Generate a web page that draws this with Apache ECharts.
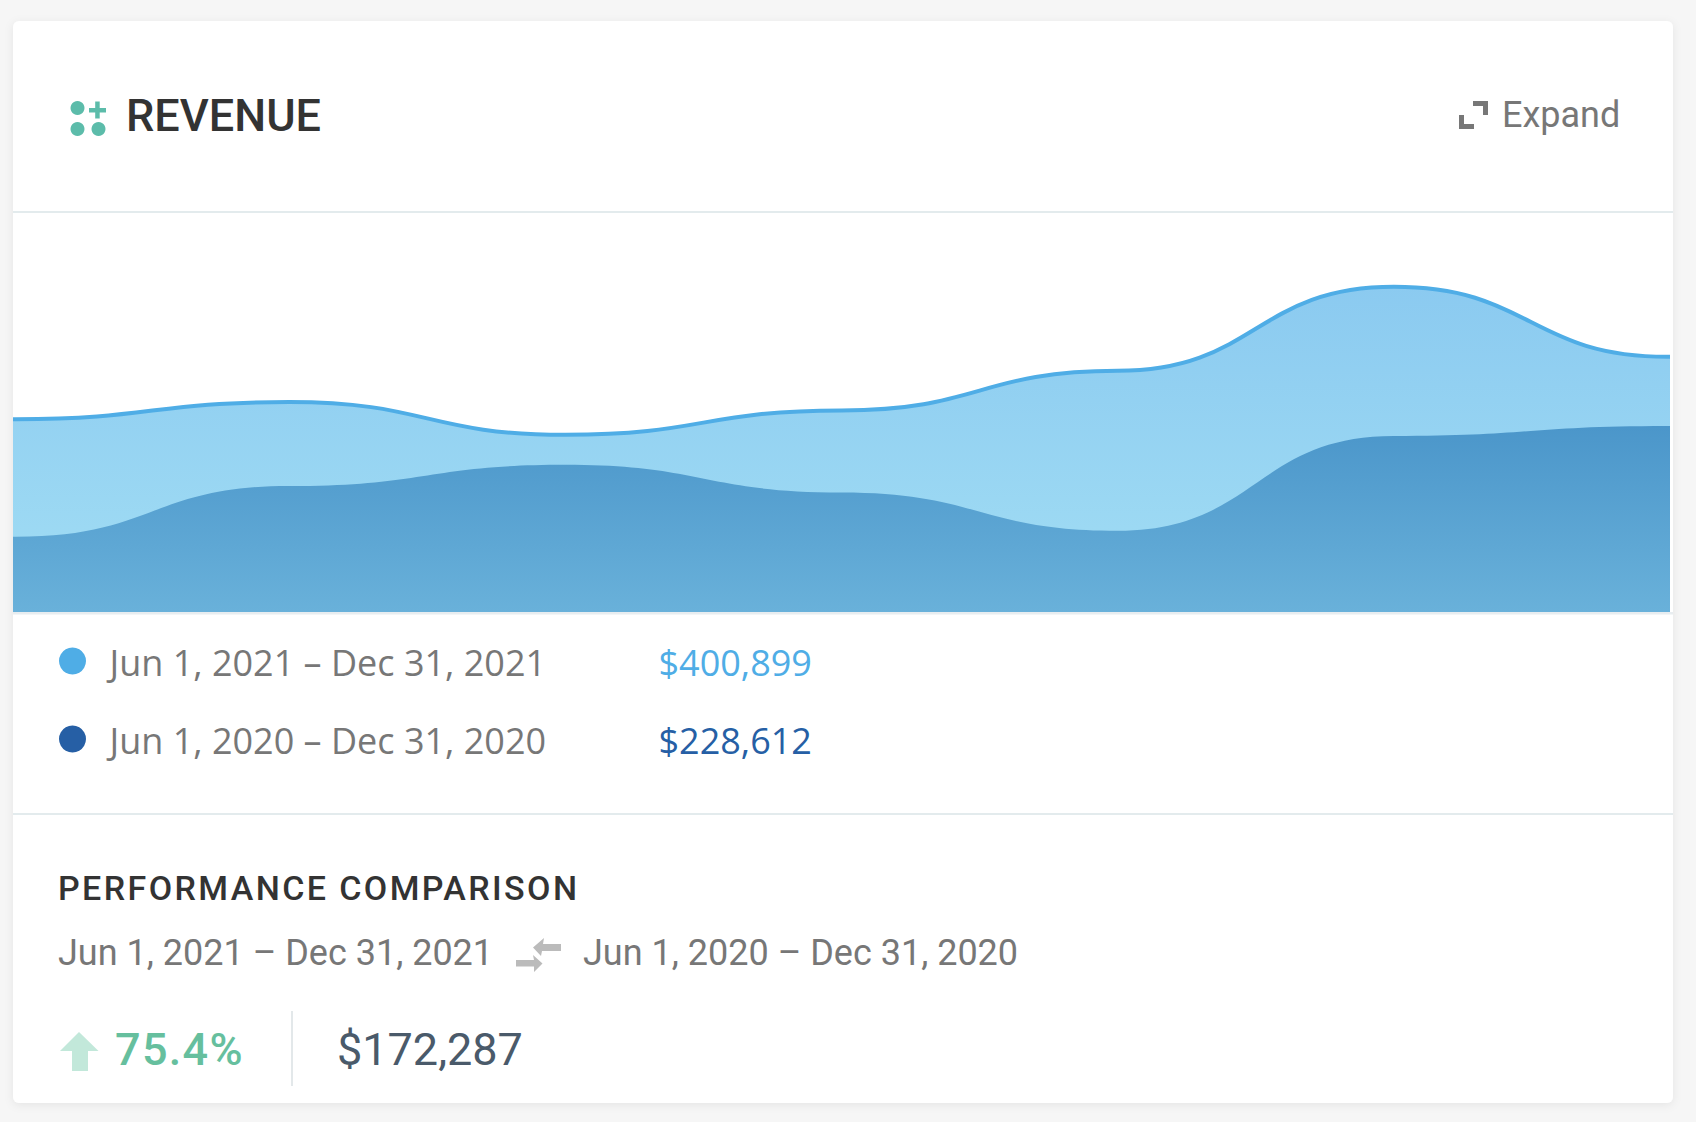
<!DOCTYPE html>
<html>
<head>
<meta charset="utf-8">
<title>Revenue</title>
<style>
  html, body { margin: 0; padding: 0; background: #f6f6f6; }
  #chart { width: 1696px; height: 1122px; }
</style>
<script src="https://cdn.jsdelivr.net/npm/echarts@6/dist/echarts.min.js"></script>
</head>
<body>
<div id="chart"></div>
<script>
var months = ['Jun', 'Jul', 'Aug', 'Sep', 'Oct', 'Nov', 'Dec'];

// monthly revenue in $k
var current = [48.2, 52.5, 44.3, 50.4, 60.3, 81.3, 63.8];
var previous = [18.8, 31.5, 36.8, 29.9, 20.3, 44.0, 46.5];

var currentRange = 'Jun 1, 2021 – Dec 31, 2021';
var previousRange = 'Jun 1, 2020 – Dec 31, 2020';
var currentTotal = '$400,899';
var previousTotal = '$228,612';
var changePercent = '75.4%';
var changeAmount = '$172,287';
var comparisonTitle = 'PERFORMANCE COMPARISON';

var GRAY = '#777777';
var TEAL = '#5cbcaa';
var LINE = '#e3ebed';

// first and last value are repeated right next to the edge so the curve
// leaves and enters the chart flat, like the original
function toPoints(values) {
  var last = values.length - 1;
  var points = values.map(function (v, i) { return [i, v]; });
  points.splice(1, 0, [0.01, values[0]]);
  points.splice(points.length - 1, 0, [last - 0.01, values[last]]);
  return points;
}

function label(x, y, text, size, color, weight, family) {
  return {
    type: 'text', x: x, y: y, z: 5,
    style: {
      text: text, fill: color,
      font: (weight || 400) + ' ' + size + 'px ' + (family || 'Roboto'),
      textVerticalAlign: 'middle'
    }
  };
}
function box(x, y, w, h, color) {
  return { type: 'rect', z: 1, shape: { x: x, y: y, width: w, height: h }, style: { fill: color } };
}
function dot(x, y, r, color) {
  return { type: 'circle', z: 5, shape: { cx: x, cy: y, r: r }, style: { fill: color } };
}
function poly(points, color) {
  return { type: 'polygon', z: 5, shape: { points: points }, style: { fill: color } };
}

var chart = echarts.init(document.getElementById('chart'), null, { renderer: 'svg' });

chart.setOption({
  backgroundColor: '#f6f6f6',
  animation: false,
  grid: { left: 13, right: 26, top: 212, height: 400 },
  xAxis: { type: 'value', min: 0, max: months.length - 1, show: false },
  yAxis: { type: 'value', min: 0, max: 100, show: false },
  legend: {
    orient: 'vertical', left: 59, top: 644, padding: 0,
    itemWidth: 60, itemHeight: 27, itemGap: 42,
    selectedMode: false,
    data: [
      { name: currentRange, icon: 'circle', itemStyle: { color: '#4fade6' } },
      { name: previousRange, icon: 'circle', itemStyle: { color: '#265fa5' } }
    ],
    formatter: function (name) {
      if (name === currentRange) return '{a|' + name + '}{b|' + currentTotal + '}';
      return '{a|' + name + '}{c|' + previousTotal + '}';
    },
    textStyle: {
      rich: {
        a: { width: 549, fontFamily: 'Open Sans', fontSize: 36, color: GRAY, padding: [2, 0, 0, 2] },
        b: { fontFamily: 'Open Sans', fontSize: 36, color: '#4fade6', padding: [2, 0, 0, 0] },
        c: { fontFamily: 'Open Sans', fontSize: 36, color: '#265fa5', padding: [2, 0, 0, 0] }
      }
    }
  },
  series: [
    {
      name: currentRange, type: 'line', data: toPoints(current), smooth: 0.5, smoothMonotone: 'x',
      symbol: 'none', z: 2,
      lineStyle: { color: '#4fade6', width: 4 },
      itemStyle: { color: '#4fade6' },
      areaStyle: {
        opacity: 1,
        color: new echarts.graphic.LinearGradient(0, 0, 0, 1, [
          { offset: 0, color: '#8bcaf0' }, { offset: 1, color: '#a2def4' }
        ])
      }
    },
    {
      name: previousRange, type: 'line', data: toPoints(previous), smooth: 0.5, smoothMonotone: 'x',
      symbol: 'none', z: 3,
      lineStyle: { width: 0 },
      itemStyle: { color: '#265fa5' },
      areaStyle: {
        opacity: 1,
        color: new echarts.graphic.LinearGradient(0, 0, 0, 1, [
          { offset: 0, color: '#4b96ca' }, { offset: 1, color: '#69b1da' }
        ])
      }
    }
  ],
  graphic: { elements: [
    // card
    { type: 'rect', z: 0, shape: { x: 13, y: 21, width: 1660, height: 1082, r: 6 },
      style: { fill: '#fff', shadowBlur: 10, shadowColor: 'rgba(0,0,0,0.07)', shadowOffsetY: 2 } },
    box(13, 211, 1660, 2, LINE),
    box(13, 612, 1660, 2.5, '#e8edf0'),
    box(13, 813, 1660, 2, LINE),
    box(291, 1011, 2, 75, '#e3e8ea'),

    // header
    dot(77.5, 108, 7, TEAL), dot(77.5, 129, 7, TEAL), dot(98.5, 129, 7, TEAL),
    box(89, 108, 17, 4.5, TEAL), box(95.2, 101.5, 4.5, 17, TEAL),
    label(126, 115, 'REVENUE', 45, '#333333', 500),
    poly([[1473, 101], [1488, 101], [1488, 115], [1483, 115], [1483, 106], [1473, 106]], GRAY),
    poly([[1459, 115], [1464, 115], [1464, 124], [1474, 124], [1474, 129], [1459, 129]], GRAY),
    label(1502, 115, 'Expand', 36, GRAY),

    // comparison block
    label(58, 888, comparisonTitle, 34, '#333333', 500),
    label(58, 952.5, currentRange, 36, GRAY),
    label(583, 952.5, previousRange, 36, GRAY),
    poly([[561, 944], [543, 944], [544, 938], [533, 947.5], [541, 956], [542, 951], [561, 951]], '#bbbbbb'),
    poly([[516, 960], [534, 960], [533, 955], [542.5, 963.5], [534, 972], [534, 966.5], [516, 966.5]], '#bbbbbb'),
    poly([[60, 1051], [79, 1032], [98.5, 1051], [88, 1051], [88, 1071], [72, 1071], [72, 1051]], '#c2e8da'),
    label(115, 1049.5, changePercent, 45, '#66bf9e', 500),
    label(337, 1049.5, changeAmount, 45, '#4a5a6a')
  ] }
});

// zrender has no letter spacing option, set it on the svg text afterwards
var spacing = {};
spacing[comparisonTitle] = '2.4px';
spacing[changePercent] = '1.3px';
chart.getDom().querySelectorAll('text').forEach(function (node) {
  if (spacing[node.textContent]) node.style.letterSpacing = spacing[node.textContent];
});
</script>
</body>
</html>
